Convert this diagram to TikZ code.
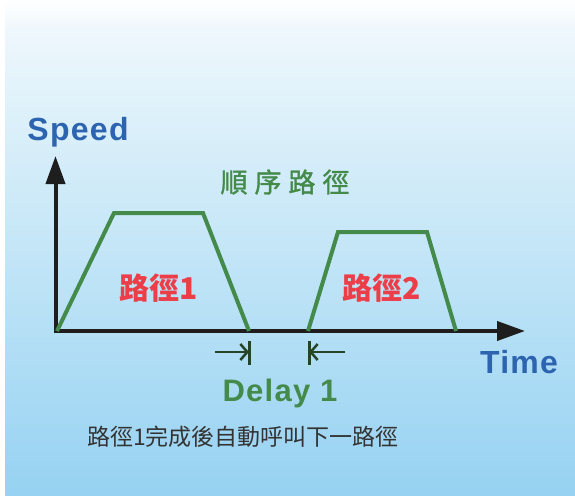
\documentclass[tikz,border=0pt]{standalone}
\usepackage{fontspec}
\setmainfont{Liberation Sans}
\newfontfamily\cjk{Noto Sans CJK TC}
\newfontfamily\cjkmid[FakeBold=1.2]{Noto Sans CJK TC}
\newfontfamily\spaced[LetterSpace=4]{Liberation Sans}
\usepackage{xcolor}
\usetikzlibrary{arrows.meta,positioning}

\definecolor{axisblue}{RGB}{45,100,175}
\definecolor{pathgreen}{RGB}{68,138,74}
\definecolor{delaygreen}{RGB}{38,68,40}
\definecolor{labelred}{RGB}{236,62,72}
\definecolor{axisblack}{RGB}{30,30,30}
\definecolor{panelbot}{RGB}{150,210,242}
\definecolor{panelmid}{RGB}{222,241,250}
\definecolor{paneltop}{RGB}{238,247,252}

\pgfdeclareverticalshading{panel}{100bp}{color(0bp)=(panelbot); color(25bp)=(panelbot);
  color(64bp)=(panelmid); color(72bp)=(paneltop); color(75bp)=(white); color(100bp)=(white)}

\begin{document}
\begin{tikzpicture}[
    x=1pt, y=-1pt,
    axis/.style={draw=axisblack, line width=4pt, -{Triangle[length=28pt,width=19pt]}},
    trace/.style={draw=pathgreen, line width=4pt},
    mark line/.style={draw=delaygreen, line width=3pt},
    mark arrow/.style={draw=delaygreen, line width=2.5pt, -{Straight Barb[length=7pt,width=16pt]}},
    axislabel/.style={font=\spaced\bfseries\fontsize{32}{32}\selectfont, text=axisblue, inner sep=0pt},
    runlabel/.style={font=\cjk\bfseries\fontsize{30}{30}\selectfont, text=labelred, inner sep=0pt}
]

% ---------------- Background ----------------
\useasboundingbox (0,0) rectangle (575,495);
\fill[white] (0,0) rectangle (575,495);
\shade[shading=panel] (5,0) rectangle (575,495);

% ---------------- Axes ----------------
\coordinate (O) at (55.5,331);
\coordinate (ytip) at (55.5,156);
\coordinate (xtip) at (525,331);
\draw[axis] (O) -- (ytip);
\draw[axis] ([xshift=-2pt]O) -- (xtip);

\node[axislabel] (speed) at (78,132) {Speed};
\node[axislabel] (time) at (519,362) {Time};

% ---------------- Run 1 ----------------
\coordinate (a0) at (57,331);
\coordinate (a1) at (114,213);
\coordinate (a2) at (203,213);
\coordinate (a3) at (249,331);
\draw[trace] (a0) -- (a1) -- (a2) -- (a3);
\node[runlabel] (run1) at (159,288) {路徑1};

% ---------------- Run 2 ----------------
\coordinate (b0) at (308,331);
\coordinate (b1) at (338,232);
\coordinate (b2) at (427,232);
\coordinate (b3) at (456,331);
\draw[trace] (b0) -- (b1) -- (b2) -- (b3);
\node[runlabel] (run2) at (382,288) {路徑2};

\node[font=\cjkmid\fontsize{27}{27}\selectfont, text=pathgreen, inner sep=0pt] (title) at (285,182) {順\hspace{7pt}序\hspace{7pt}路\hspace{7pt}徑};

% ---------------- Delay ----------------
\coordinate (d1top) at (249,341);
\coordinate (d1bot) at (249,365);
\coordinate (d2top) at (309,341);
\coordinate (d2bot) at (309,365);
\coordinate (d1from) at (215,352);
\coordinate (d2from) at (345,352);
\draw[mark line] (d1top) -- (d1bot);
\draw[mark line] (d2top) -- (d2bot);
\draw[mark arrow] (d1from) -- (249,352);
\draw[mark arrow] (d2from) -- (309,352);

\node[font=\spaced\bfseries\fontsize{31}{31}\selectfont, text=pathgreen, inner sep=0pt] (delay) at (280,393) {Delay 1};
\node[font=\cjk\fontsize{23}{23}\selectfont, text=black!80, inner sep=0pt] (note) at (243,437) {路徑1完成後自動呼叫下一路徑};

\end{tikzpicture}
\end{document}
